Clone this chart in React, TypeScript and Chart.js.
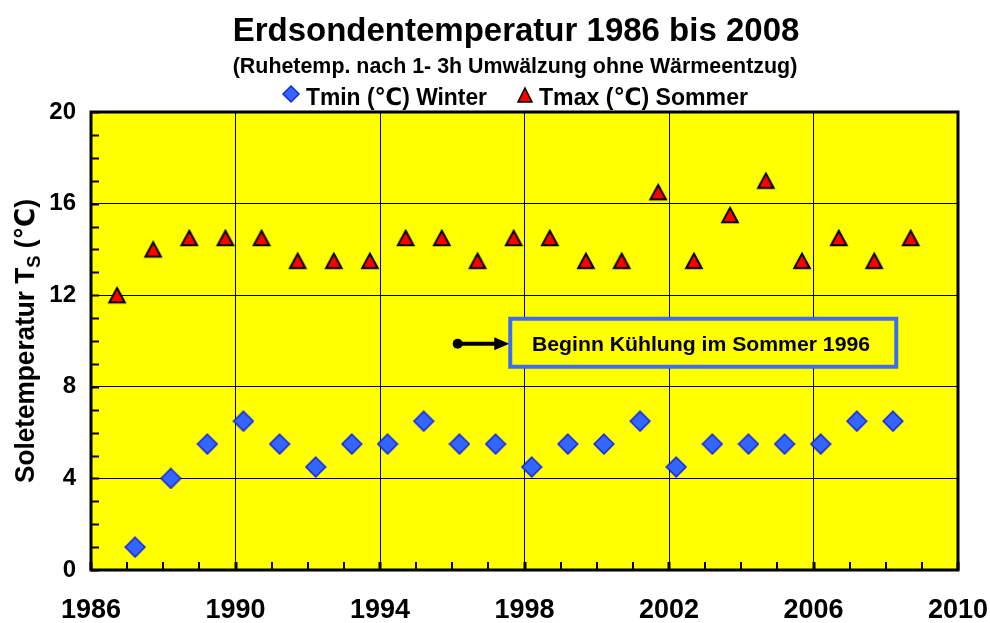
import React, { useEffect, useRef } from "react";
import { Chart, registerables } from "chart.js";

Chart.register(...registerables);

// ---- data ----
const tminYears = [1987.22, 1988.21, 1989.22, 1990.22, 1991.22, 1992.22, 1993.22, 1994.21, 1995.21, 1996.2, 1997.2, 1998.2, 1999.2, 2000.2, 2001.2, 2002.2, 2003.2, 2004.2, 2005.2, 2006.2, 2007.2, 2008.2];
const tminValues = [1, 4, 5.5, 6.5, 5.5, 4.5, 5.5, 5.5, 6.5, 5.5, 5.5, 4.5, 5.5, 5.5, 6.5, 4.5, 5.5, 5.5, 5.5, 5.5, 6.5, 6.5];
const tmaxYears = [1986.72, 1987.72, 1988.72, 1989.72, 1990.72, 1991.72, 1992.72, 1993.72, 1994.71, 1995.71, 1996.7, 1997.7, 1998.7, 1999.7, 2000.69, 2001.7, 2002.69, 2003.69, 2004.68, 2005.68, 2006.7, 2007.68, 2008.69];
const tmaxValues = [12, 14, 14.5, 14.5, 14.5, 13.5, 13.5, 13.5, 14.5, 14.5, 13.5, 14.5, 14.5, 13.5, 13.5, 16.5, 13.5, 15.5, 17, 13.5, 14.5, 13.5, 14.5];
const xTicks = [1986, 1990, 1994, 1998, 2002, 2006, 2010];
const yTicks = [0, 4, 8, 12, 16, 20];
const xMinorStep = 1;
const yMinorStep = 1;

const titleText = "Erdsondentemperatur 1986 bis 2008";
const subtitleText = "(Ruhetemp. nach 1- 3h Umwälzung ohne Wärmeentzug)";
const tminLabel = "Tmin (\u2103) Winter";
const tmaxLabel = "Tmax (\u2103) Sommer";
const yTitleMain = "Soletemperatur T";
const yTitleSub = "S";
const yTitleEnd = " (\u2103)";
const noteText = "Beginn Kühlung im Sommer 1996";
const noteArrowFrom = { x: 1996.15, y: 9.88 };
const noteArrowToX = 1997.55;

const FONT = '"Liberation Sans", "DejaVu Sans", Arial, sans-serif';
const YELLOW = "#ffff00";
const DIAMOND_FILL = "#3366ff";
const DIAMOND_STROKE = "#1428e6";
const TRI_FILL = "#ff0000";

function drawDiamond(ctx: CanvasRenderingContext2D, cx: number, cy: number, r: number, lw: number) {
  ctx.save();
  ctx.beginPath();
  ctx.moveTo(cx, cy - r);
  ctx.lineTo(cx + r, cy);
  ctx.lineTo(cx, cy + r);
  ctx.lineTo(cx - r, cy);
  ctx.closePath();
  ctx.fillStyle = DIAMOND_FILL;
  ctx.fill();
  ctx.lineWidth = lw;
  ctx.strokeStyle = DIAMOND_STROKE;
  ctx.stroke();
  ctx.restore();
}

function drawTriangle(ctx: CanvasRenderingContext2D, cx: number, cy: number, hw: number, hh: number, lw: number) {
  ctx.save();
  ctx.beginPath();
  ctx.moveTo(cx, cy - hh);
  ctx.lineTo(cx + hw, cy + hh);
  ctx.lineTo(cx - hw, cy + hh);
  ctx.closePath();
  ctx.fillStyle = TRI_FILL;
  ctx.fill();
  ctx.lineWidth = lw;
  ctx.lineJoin = "miter";
  ctx.strokeStyle = "#000";
  ctx.stroke();
  ctx.restore();
}

function makeDiamondImage() {
  const c = document.createElement("canvas");
  c.width = 22;
  c.height = 22;
  const ctx = c.getContext("2d")!;
  drawDiamond(ctx, 11, 11, 9.8, 1.6);
  return c;
}

function makeTriangleImage() {
  const c = document.createElement("canvas");
  c.width = 20;
  c.height = 20;
  const ctx = c.getContext("2d")!;
  drawTriangle(ctx, 10, 10, 7.8, 7.2, 2);
  return c;
}

// draws text squeezed/stretched horizontally to a given width, starting at x (left)
function fillTextWidth(ctx: CanvasRenderingContext2D, text: string, x: number, y: number, width: number) {
  const w = ctx.measureText(text).width;
  const s = width / w;
  ctx.save();
  ctx.textAlign = "left";
  ctx.translate(x, y);
  ctx.scale(s, 1);
  ctx.fillText(text, 0, 0);
  ctx.restore();
}

const decorPlugin = {
  id: "decor",
  beforeDraw(chart: any) {
    const { ctx, chartArea: a } = chart;
    ctx.save();
    ctx.fillStyle = "#ffffff";
    ctx.fillRect(0, 0, chart.width, chart.height);
    ctx.fillStyle = YELLOW;
    ctx.fillRect(a.left, a.top, a.right - a.left, a.bottom - a.top);
    ctx.restore();
  },
  beforeDatasetsDraw(chart: any) {
    const { ctx, chartArea: a, scales } = chart;
    const xs = scales.x;
    const ys = scales.y;
    ctx.save();
    ctx.strokeStyle = "#000";
    ctx.lineWidth = 2;
    for (let v = ys.min; v <= ys.max + 1e-9; v += yMinorStep) {
      const py = Math.round(ys.getPixelForValue(v)) + 0.5;
      ctx.beginPath();
      ctx.moveTo(a.left, py);
      ctx.lineTo(a.left + 8, py);
      ctx.stroke();
    }
    for (let v = xs.min; v <= xs.max + 1e-9; v += xMinorStep) {
      const px = Math.round(xs.getPixelForValue(v));
      ctx.lineWidth = xTicks.includes(v) ? 3 : 2;
      ctx.beginPath();
      ctx.moveTo(px, a.bottom);
      ctx.lineTo(px, a.bottom - 8);
      ctx.stroke();
    }
    ctx.lineWidth = 3;
    ctx.strokeRect(a.left, a.top, a.right - a.left, a.bottom - a.top);
    ctx.restore();
  },
  afterDatasetsDraw(chart: any) {
    const { ctx, scales } = chart;
    const xs = scales.x;
    const ys = scales.y;
    ctx.save();

    // annotation arrow + box
    const ax = xs.getPixelForValue(noteArrowFrom.x);
    const ay = ys.getPixelForValue(noteArrowFrom.y);
    const bx = xs.getPixelForValue(noteArrowToX);
    ctx.fillStyle = "#000";
    ctx.strokeStyle = "#000";
    ctx.beginPath();
    ctx.arc(ax, ay, 5, 0, Math.PI * 2);
    ctx.fill();
    ctx.lineWidth = 4;
    ctx.beginPath();
    ctx.moveTo(ax, ay);
    ctx.lineTo(bx - 12, ay);
    ctx.stroke();
    ctx.beginPath();
    ctx.moveTo(bx + 1, ay);
    ctx.lineTo(bx - 14, ay - 6.5);
    ctx.lineTo(bx - 14, ay + 6.5);
    ctx.closePath();
    ctx.fill();

    const boxW = 386;
    const boxH = 48;
    const boxTop = ay - 25;
    ctx.fillStyle = YELLOW;
    ctx.fillRect(bx + 2, boxTop, boxW, boxH);
    ctx.strokeStyle = "#3c6cf0";
    ctx.lineWidth = 4;
    ctx.strokeRect(bx + 2, boxTop, boxW, boxH);
    ctx.fillStyle = "#000";
    ctx.font = `bold 21px ${FONT}`;
    ctx.textBaseline = "alphabetic";
    fillTextWidth(ctx, noteText, 532, boxTop + 32, 338);

    // titles
    ctx.textAlign = "center";
    ctx.font = `bold 33px ${FONT}`;
    ctx.fillText(titleText, 516, 41);
    ctx.font = `bold 21.4px ${FONT}`;
    ctx.fillText(subtitleText, 515, 73);

    // legend
    ctx.font = `bold 24px ${FONT}`;
    drawDiamond(ctx, 291, 94, 8, 1.5);
    ctx.fillStyle = "#000";
    fillTextWidth(ctx, tminLabel, 306, 105, 181);
    drawTriangle(ctx, 525, 95, 7, 7, 1.5);
    ctx.fillStyle = "#000";
    fillTextWidth(ctx, tmaxLabel, 539, 105, 209);

    // y axis title with subscript
    ctx.save();
    ctx.translate(34, 341);
    ctx.rotate(-Math.PI / 2);
    const mainFont = `bold 27px ${FONT}`;
    const subFont = `bold 19px ${FONT}`;
    ctx.font = mainFont;
    const w1 = ctx.measureText(yTitleMain).width;
    const w3 = ctx.measureText(yTitleEnd).width;
    ctx.font = subFont;
    const w2 = ctx.measureText(yTitleSub).width;
    const total = w1 + w2 + w3;
    const target = 284;
    const s = target / total;
    ctx.scale(s, 1);
    let x0 = -total / 2;
    ctx.textAlign = "left";
    ctx.font = mainFont;
    ctx.fillText(yTitleMain, x0, 0);
    x0 += w1;
    ctx.font = subFont;
    ctx.fillText(yTitleSub, x0, 6);
    x0 += w2;
    ctx.font = mainFont;
    ctx.fillText(yTitleEnd, x0, 0);
    ctx.restore();

    ctx.restore();
  },
};

export default function App() {
  const canvasRef = useRef<HTMLCanvasElement | null>(null);

  useEffect(() => {
    const canvas = canvasRef.current;
    if (!canvas) return;
    const diamondImg = makeDiamondImage();
    const triImg = makeTriangleImage();
    const chart = new Chart(canvas, {
      type: "scatter",
      data: {
        datasets: [
          {
            label: tminLabel,
            data: tminYears.map((x, i) => ({ x, y: tminValues[i] })),
            pointStyle: diamondImg as any,
            pointRadius: 10,
            showLine: false,
          },
          {
            label: tmaxLabel,
            data: tmaxYears.map((x, i) => ({ x, y: tmaxValues[i] })),
            pointStyle: triImg as any,
            pointRadius: 10,
            showLine: false,
          },
        ],
      },
      options: {
        animation: false,
        responsive: false,
        devicePixelRatio: 1,
        layout: { padding: { top: 112, right: 32, left: 0, bottom: 0 } },
        plugins: {
          legend: { display: false },
          title: { display: false },
          tooltip: { enabled: false },
        },
        scales: {
          x: {
            type: "linear",
            min: xTicks[0],
            max: xTicks[xTicks.length - 1],
            afterBuildTicks: (s: any) => {
              s.ticks = xTicks.map((v) => ({ value: v }));
            },
            afterFit: (s: any) => {
              s.height = 53;
              s.paddingLeft = 0;
              s.paddingRight = 0;
            },
            ticks: {
              callback: (v: any) => String(v),
              font: { family: FONT, size: 27, weight: "bold" },
              color: "#000",
              padding: 24,
              maxRotation: 0,
              autoSkip: false,
            },
            grid: { color: "#000", lineWidth: 1, drawTicks: false },
            border: { display: false },
          },
          y: {
            type: "linear",
            min: yTicks[0],
            max: yTicks[yTicks.length - 1],
            afterBuildTicks: (s: any) => {
              s.ticks = yTicks.map((v) => ({ value: v }));
            },
            afterFit: (s: any) => {
              s.width = 91;
              s.paddingTop = 0;
              s.paddingBottom = 0;
            },
            ticks: {
              callback: (v: any) => String(v),
              font: { family: FONT, size: 24, weight: "bold" },
              color: "#000",
              padding: 15,
            },
            grid: { color: "#000", lineWidth: 1, drawTicks: false },
            border: { display: false },
          },
        },
      },
      plugins: [decorPlugin],
    });
    return () => chart.destroy();
  }, []);

  return (
    <div style={{ position: "fixed", left: 0, top: 0, width: 990, height: 623, background: "#fff" }}>
      <canvas ref={canvasRef} width={990} height={623} style={{ display: "block", width: 990, height: 623 }} />
    </div>
  );
}
